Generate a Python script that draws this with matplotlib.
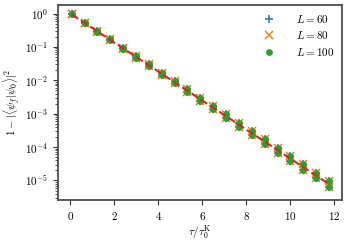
import matplotlib
matplotlib.use('Agg')
import matplotlib.pyplot as plt

plt.rcParams['font.family'] = 'serif'
plt.rcParams['font.serif'] = ['cmr10']
plt.rcParams['mathtext.fontset'] = 'cm'
plt.rcParams['axes.formatter.use_mathtext'] = True
plt.rcParams['font.size'] = 8

# evolution time in units of tau_0^K
tau = [0.06, 0.645, 1.23, 1.815, 2.4, 2.985, 3.57, 4.155, 4.74, 5.325, 5.91,
       6.495, 7.08, 7.665, 8.25, 8.835, 9.42, 10.005, 10.59, 11.175, 11.76]

# infidelity, upper and lower point of each cluster
loss_upper = [0.942, 0.530, 0.298, 0.168, 0.0943, 0.0530, 0.0300, 0.0169,
              0.00949, 0.00535, 0.00301, 0.00169, 0.000951, 0.000537,
              0.000302, 0.000171, 9.57e-5, 5.38e-5, 3.04e-5, 1.71e-5, 9.6e-6]
loss_lower = [0.942, 0.520, 0.286, 0.158, 0.0872, 0.0481, 0.0265, 0.0146,
              0.00805, 0.00444, 0.00244, 0.00135, 0.000745, 0.000410,
              0.000226, 0.000125, 6.87e-5, 3.80e-5, 2.09e-5, 1.15e-5, 6.3e-6]
loss_theory = [0.942, 0.525, 0.292, 0.163, 0.0907, 0.0505, 0.0282, 0.0157,
               0.00874, 0.00487, 0.00271, 0.00151, 0.000842, 0.000469,
               0.000261, 0.000146, 8.11e-5, 4.52e-5, 2.52e-5, 1.40e-5, 7.8e-6]

sizes = [60, 80, 100]
markers = ['+', 'x', 'o']
colors = ['tab:blue', 'tab:orange', 'tab:green']
msizes = [6, 6, 3.8]

fig = plt.figure(figsize=(3.5, 2.5), dpi=100)
ax = fig.add_axes([0.166, 0.2, 0.811, 0.78])

tau2 = tau + tau
for L, m, c, ms in zip(sizes, markers, colors, msizes):
    ax.plot(tau2, loss_upper + loss_lower, ls='none', marker=m, color=c,
            ms=ms, mew=1.1, label=r'$L=%d$' % L)

ax.plot(tau, loss_theory, '--', color='tab:red', lw=1.5, zorder=5)

ax.set_yscale('log')
ax.set_xlim(-0.56, 12.35)
ax.set_ylim(2.6e-6, 1.8)
ax.set_xticks([0, 2, 4, 6, 8, 10, 12])
ax.set_xlabel(r'$\tau/\tau_0^{\mathrm{K}}$', labelpad=1)
ax.set_ylabel(r'$1-|\langle\psi_f|\psi_0\rangle|^2$', labelpad=2)

for s in ax.spines.values():
    s.set_color('0.3')
    s.set_linewidth(1.3)
ax.tick_params(which='both', color='0.2')

ax.legend(loc='upper right', frameon=False, handletextpad=1.4,
          borderaxespad=0.3, labelspacing=0.4)

fig.savefig('out.png', dpi=100)
